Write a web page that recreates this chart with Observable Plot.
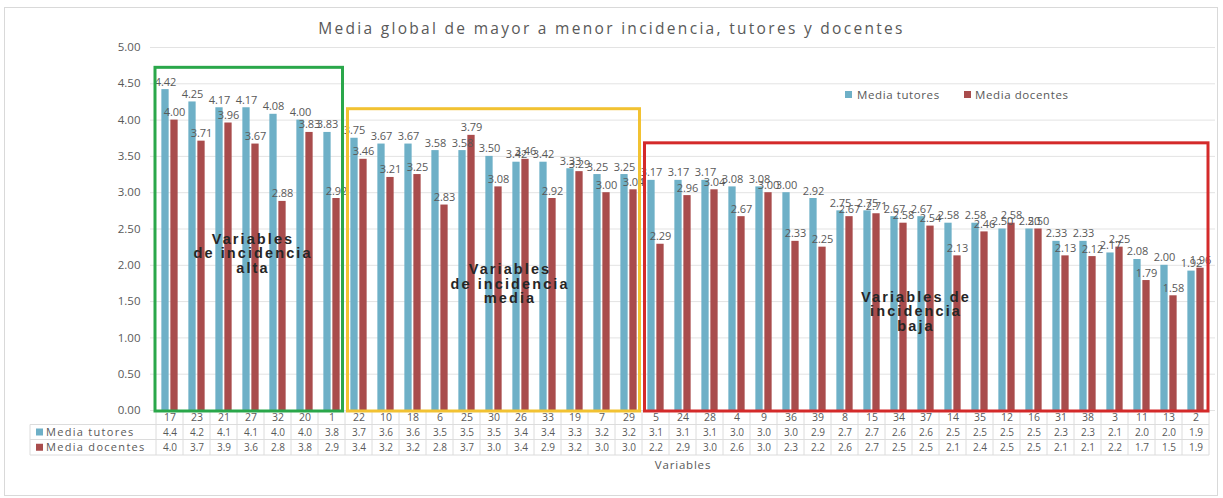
<!DOCTYPE html>
<html><head><meta charset="utf-8">
<script src="https://cdn.jsdelivr.net/npm/d3@7"></script>
<script src="https://cdn.jsdelivr.net/npm/@observablehq/plot@0.6"></script>
<style>
body{margin:0;background:#fff;}
#wrap{position:relative;width:1223px;height:498px;overflow:hidden;font-family:"Open Sans",Lato,sans-serif;}
#frame{position:absolute;left:4px;top:7px;width:1214px;height:489px;border:1px solid #d9d9d9;box-sizing:border-box;}
#title{position:absolute;left:0;width:1223px;top:18px;text-align:center;font-size:15.5px;line-height:20px;color:#595959;letter-spacing:2.3px;}
.lg{position:absolute;font-size:11.5px;line-height:14px;color:#595959;white-space:nowrap;letter-spacing:0.6px;}
.lk{position:absolute;width:7px;height:7px;}
#chart{position:absolute;left:0;top:0;}
</style></head>
<body><div id="wrap"><div id="frame"></div><div id="chart"></div>
<div id="title">Media global de mayor a menor incidencia, tutores y docentes</div>
<div class="lk" style="left:845px;top:91px;background:#6eb0c7"></div><div class="lg" id="lg1" style="left:857px;top:88px"></div>
<div class="lk" style="left:964px;top:91px;background:#a94c4c"></div><div class="lg" id="lg2" style="left:975px;top:88px"></div>
</div>
<script>
const categories = ["17","23","21","27","32","20","1","22","10","18","6","25","30","26","33","19","7","29","5","24","28","4","9","36","39","8","15","34","37","14","35","12","16","31","38","3","11","13","2"];
const tutores = [4.42,4.25,4.17,4.17,4.08,4.00,3.83,3.75,3.67,3.67,3.58,3.58,3.50,3.42,3.42,3.33,3.25,3.25,3.17,3.17,3.17,3.08,3.08,3.00,2.92,2.75,2.75,2.67,2.67,2.58,2.58,2.50,2.50,2.33,2.33,2.17,2.08,2.00,1.92];
const docentes = [4.00,3.71,3.96,3.67,2.88,3.83,2.92,3.46,3.21,3.25,2.83,3.79,3.08,3.46,2.92,3.29,3.00,3.04,2.29,2.96,3.04,2.67,3.00,2.33,2.25,2.67,2.71,2.58,2.54,2.13,2.46,2.58,2.50,2.13,2.12,2.25,1.79,1.58,1.96];
const yTicks = [0,0.5,1,1.5,2,2.5,3,3.5,4,4.5,5];
const seriesNames = ["Media tutores","Media docentes"];
const groups = [
  {label:"Variables\nde incidencia\nalta", from:"17", to:"1", top:4.72, labelAt:"27", labelY:2.16},
  {label:"Variables\nde incidencia\nmedia", from:"22", to:"29", top:4.15, labelAt:"26", labelY:1.74},
  {label:"Variables de\nincidencia\nbaja", from:"5", to:"2", top:3.68, labelAt:"37", labelY:1.36}
];
const groupColors = ["#2aa74a","#f2c232","#d42a2a"];
const labelShift = [2, -11, -10];
const colT = "#6eb0c7", colD = "#a94c4c";
document.getElementById("lg1").textContent = seriesNames[0];
document.getElementById("lg2").textContent = seriesNames[1];

const data = categories.map((c,i)=>({cat:c, t:tutores[i], d:docentes[i]}));
const W = 1223, H = 498, mL = 150, mR = 8, mT = 47, mB = 88;
const bw = (W-mL-mR)/categories.length;
const barW = 7.6, gap = 1.4;
const inOuter = bw/2 - gap/2 - barW, inInner = bw/2 + gap/2;
const trunc = v => (Math.floor(v*10+1e-6)/10).toFixed(1);

const groupLabelMarks = groups.map((g,i) => Plot.text([g], {x:"labelAt", y:"labelY", text:"label", dx: labelShift[i],
  fill:"#262626", fontSize: 14.5, fontWeight: "bold", lineHeight: 1.0, fontFamily: "'Liberation Sans', Arial, sans-serif"}));

const plot = Plot.plot({
  width: W, height: H, marginLeft: mL, marginRight: mR, marginTop: mT, marginBottom: mB,
  style: {fontFamily: "'Open Sans', Lato, sans-serif", fontSize: "11px", color: "#595959", background: "transparent"},
  x: {domain: categories, padding: 0, axis: null},
  y: {domain: [0,5], ticks: yTicks, tickFormat: d => d.toFixed(2), tickSize: 0, tickPadding: 10, label: null},
  marks: [
    Plot.ruleY(yTicks, {stroke: "#e3e3e3"}),
    Plot.barY(data, {x:"cat", y:"t", fill: colT, insetLeft: inOuter, insetRight: inInner}),
    Plot.barY(data, {x:"cat", y:"d", fill: colD, insetLeft: inInner, insetRight: inOuter}),
    Plot.text(data, {x:"cat", y:"t", text: d=>d.t.toFixed(2), dx: -(gap/2+barW/2), dy: -4, lineAnchor:"bottom", fill:"#595959", fontSize: 11}),
    Plot.text(data, {x:"cat", y:"d", text: d=>d.d.toFixed(2), dx: (gap/2+barW/2), dy: -4, lineAnchor:"bottom", fill:"#595959", fontSize: 11}),
    Plot.text(data, {x:"cat", text:"cat", frameAnchor:"bottom", dy: 7, lineAnchor:"middle", fill:"#595959", fontSize: 10.5}),
    Plot.text(data, {x:"cat", text: d=>trunc(d.t), frameAnchor:"bottom", dy: 22, lineAnchor:"middle", fill:"#595959", fontSize: 10}),
    Plot.text(data, {x:"cat", text: d=>trunc(d.d), frameAnchor:"bottom", dy: 37, lineAnchor:"middle", fill:"#595959", fontSize: 10}),
    Plot.text(["Variables"], {frameAnchor:"bottom", dy: 55, lineAnchor:"middle", text: d=>d, fill:"#595959", fontSize: 11.5}),
    ...groupLabelMarks
  ]
});
document.getElementById("chart").appendChild(plot);

// overlays drawn through the plot's own scales
const sx = plot.scale("x"), sy = plot.scale("y");
const svg = d3.select(plot);
svg.selectAll("text").filter(function(){ return /incidencia/.test(this.textContent); })
  .style("letter-spacing", "2.1px");
svg.selectAll("text").filter(function(){ return this.textContent === "Variables"; })
  .style("letter-spacing", "0.8px");
const step = sx.step !== undefined ? sx.step : bw;
const left = c => sx.apply(c);
const y0 = sy.apply(0);
svg.selectAll("g[aria-label='y-axis tick label'] text, g[aria-label='y-axis'] text").attr("font-size", 11.5);
// data table grid
const tg = svg.append("g").attr("stroke", "#dcdcdc").attr("stroke-width", 1);
const rowY = [y0, y0+14.5, y0+29.5, y0+45];
categories.forEach((c,i)=>{
  const x = left(c);
  tg.append("line").attr("x1", x).attr("x2", x).attr("y1", y0).attr("y2", rowY[3]);
});
const xEnd = left(categories[categories.length-1]) + step;
tg.append("line").attr("x1", xEnd).attr("x2", xEnd).attr("y1", y0).attr("y2", rowY[3]);
for (const k of [1,2,3]) tg.append("line").attr("x1", 30).attr("x2", xEnd).attr("y1", rowY[k]).attr("y2", rowY[k]);
tg.append("line").attr("x1", 30).attr("x2", 30).attr("y1", rowY[1]).attr("y2", rowY[3]);
// row headers
[[colT, seriesNames[0], (rowY[1]+rowY[2])/2], [colD, seriesNames[1], (rowY[2]+rowY[3])/2]].forEach(([c,n,yy])=>{
  svg.append("rect").attr("x", 36).attr("y", yy-3.5).attr("width", 7).attr("height", 7).attr("fill", c);
  svg.append("text").attr("x", 46).attr("y", yy).attr("dy", "0.35em").attr("text-anchor", "start")
    .attr("fill", "#595959").attr("font-size", 11).attr("letter-spacing", 1.3).text(n);
});
// group boxes
groups.forEach((g,i)=>{
  const x1 = left(g.from) + (i===0 ? -1 : 2.5), x2 = left(g.to) + step - (i===2 ? 1 : 2.5);
  const yt = sy.apply(g.top);
  svg.append("rect").attr("x", x1).attr("y", yt).attr("width", x2-x1).attr("height", y0+1-yt)
    .attr("fill", "none").attr("stroke", groupColors[i]).attr("stroke-width", 3);
});
</script></body></html>
